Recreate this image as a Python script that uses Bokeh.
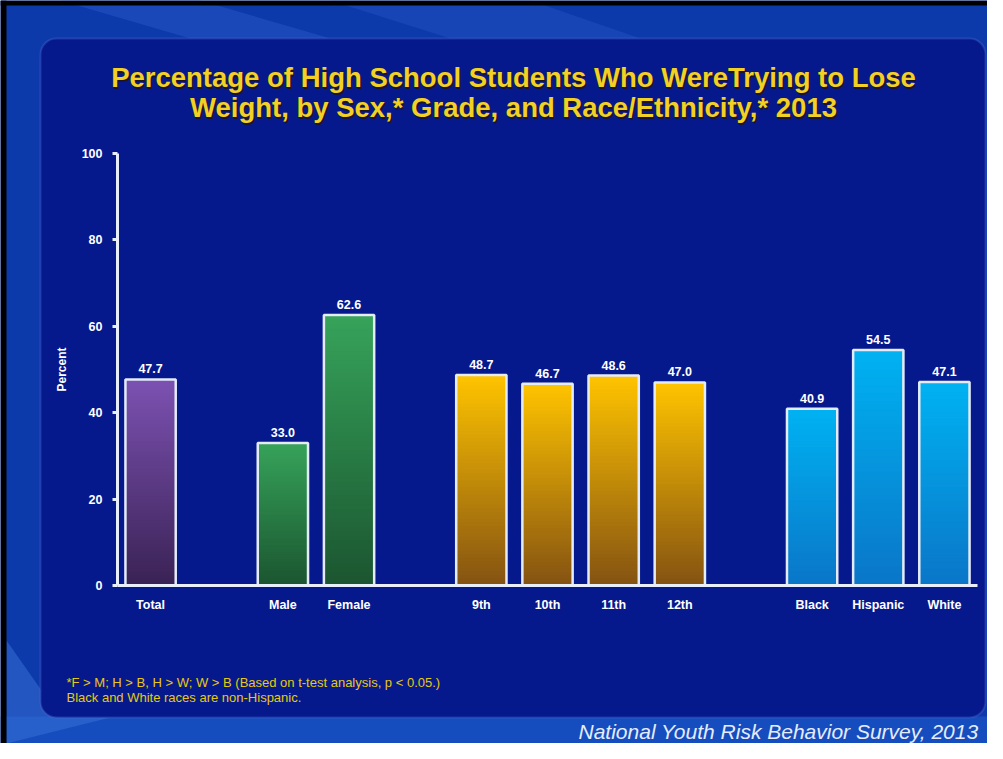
from bokeh.plotting import figure
from bokeh.models import (Label, LabelSet, BoxAnnotation, FixedTicker, Range1d,
                          ColumnDataSource, LinearAxis, PolyAnnotation)
from bokeh.core.properties import value
from bokeh.embed import file_html
from bokeh.resources import INLINE

# ---------------- data ----------------
categories = ["Total", "Male", "Female", "9th", "10th", "11th", "12th",
              "Black", "Hispanic", "White"]
values = [47.7, 33.0, 62.6, 48.7, 46.7, 48.6, 47.0, 40.9, 54.5, 47.1]
group_sizes = [1, 2, 4, 3]
group_top_colors = ["#7c52b2", "#36a35a", "#ffc400", "#00b2f2"]
group_bottom_colors = ["#3a2254", "#1b5530", "#845212", "#0a76c8"]
y_ticks = [0, 20, 40, 60, 80, 100]

title_lines = ["Percentage of High School Students Who WereTrying to Lose",
               "Weight, by Sex,* Grade, and Race/Ethnicity,* 2013"]
footnotes = ["*F > M; H > B, H > W; W > B (Based on t-test analysis, p < 0.05.)",
             "Black and White races are non-Hispanic."]
source_text = "National Youth Risk Behavior Survey, 2013"

# positions with one-slot gaps between groups
positions, bar_group = [], []
pos = 0
for gi, size in enumerate(group_sizes):
    for _ in range(size):
        positions.append(pos)
        bar_group.append(gi)
        pos += 1
    pos += 1


def hex2rgb(h):
    h = h.lstrip("#")
    return tuple(int(h[i:i + 2], 16) for i in (0, 2, 4))


def mix(c1, c2, t):
    a, b = hex2rgb(c1), hex2rgb(c2)
    return "#%02x%02x%02x" % tuple(int(round(a[i] + (b[i] - a[i]) * t)) for i in range(3))


FONT = "Liberation Sans"
W, H = 987, 743
# pixel placement of the plotting area on the canvas
AX_LEFT, AX_RIGHT, AX_TOP, AX_BOTTOM = 117, 977, 153, 585
x_lo, x_hi = positions[0] - 0.5, positions[-1] + 0.5
y_lo, y_hi = 0, 100
xs_per_px = (x_hi - x_lo) / (AX_RIGHT - AX_LEFT)
ys_per_px = (y_hi - y_lo) / (AX_BOTTOM - AX_TOP)
x_range = Range1d(x_lo - AX_LEFT * xs_per_px, x_hi + (W - AX_RIGHT) * xs_per_px)
y_range = Range1d(y_lo - (H - AX_BOTTOM) * ys_per_px, y_hi + AX_TOP * ys_per_px)

p = figure(width=W, height=H, x_range=x_range, y_range=y_range,
           output_backend="svg", toolbar_location=None,
           x_axis_location=None, y_axis_location=None, min_border=0)
p.background_fill_color = "#0d3aab"
p.border_fill_color = "#0d3aab"
p.outline_line_color = None
p.grid.visible = False


def sbox(l, r, t, b, **kw):
    # box in canvas pixels (t, b measured from the top)
    return BoxAnnotation(left=l, right=r, top=H - t, bottom=H - b,
                         left_units="screen", right_units="screen",
                         top_units="screen", bottom_units="screen", **kw)


# lighter streaks in the outer background
p.add_layout(PolyAnnotation(xs=[60, 200, 330, 190], ys=[H, H, H - 38, H - 38],
                            xs_units="screen", ys_units="screen",
                            fill_color="#2a5cc8", fill_alpha=0.45, line_color=None,
                            level="underlay"))
p.add_layout(PolyAnnotation(xs=[330, 530, 640, 450], ys=[H, H, H - 38, H - 38],
                            xs_units="screen", ys_units="screen",
                            fill_color="#2a5cc8", fill_alpha=0.35, line_color=None,
                            level="underlay"))
p.add_layout(sbox(0, W, 716, H, fill_color="#1a56c6", fill_alpha=0.7, line_color=None,
                  level="underlay"))
p.add_layout(PolyAnnotation(xs=[6, 60, 110, 6], ys=[H - 640, H - 717, H - 717, H - 743],
                            xs_units="screen", ys_units="screen",
                            fill_color="#3a72d8", fill_alpha=0.5, line_color=None,
                            level="underlay"))
# black frame edges
p.add_layout(sbox(0, W, 0, 5, fill_color="black", fill_alpha=1, line_color=None,
                  level="underlay"))
p.add_layout(sbox(0, 6, 0, H, fill_color="black", fill_alpha=1, line_color=None,
                  level="underlay"))

# panel behind the chart
p.add_layout(sbox(40, 985, 38, 717, fill_color="#06198c", fill_alpha=1.0,
                  line_color="#5a78d6", line_width=2, border_radius=16,
                  level="underlay"))

# gradient bars: nested rectangles drawn tallest first
N = 60
xs, tops, cols = [], [], []
for x, v, g in zip(positions, values, bar_group):
    for k in range(N - 1, -1, -1):
        xs.append(x)
        tops.append(v * (k + 1) / N)
        cols.append(mix(group_bottom_colors[g], group_top_colors[g], (k + 0.5) / N))
p.vbar(x=xs, bottom=0, top=tops, width=0.76, fill_color=cols, line_color=None)
# outlines
p.vbar(x=positions, top=values, width=0.76, fill_alpha=0, line_color="#e4ecfa",
       line_width=2.5)

# value labels
src = ColumnDataSource(dict(x=positions, y=values, t=["%.1f" % v for v in values]))
p.add_layout(LabelSet(x="x", y="y", text="t", source=src, text_align="center",
                      text_baseline="bottom", y_offset=6, text_color="white",
                      text_font=value(FONT), text_font_style="bold",
                      text_font_size="12.5px"))

# axes placed at fixed locations
xaxis = LinearAxis(fixed_location=0, bounds=(x_lo, x_hi))
xaxis.ticker = FixedTicker(ticks=positions)
xaxis.major_label_overrides = {x: c for x, c in zip(positions, categories)}
xaxis.major_tick_in = 0
xaxis.major_tick_out = 0
xaxis.minor_tick_line_color = None
xaxis.axis_line_color = "#e8eefa"
xaxis.axis_line_width = 3
xaxis.major_label_standoff = 12
xaxis.major_label_text_color = "white"
xaxis.major_label_text_font = FONT
xaxis.major_label_text_font_style = "bold"
xaxis.major_label_text_font_size = "12.5px"
p.add_layout(xaxis, "below")

yaxis = LinearAxis(fixed_location=x_lo, bounds=(y_lo, y_hi))
yaxis.ticker = FixedTicker(ticks=y_ticks)
yaxis.major_tick_in = 0
yaxis.major_tick_out = 5
yaxis.major_tick_line_color = "#e8eefa"
yaxis.major_tick_line_width = 3
yaxis.minor_tick_line_color = None
yaxis.axis_line_color = "#e8eefa"
yaxis.axis_line_width = 3
yaxis.major_label_standoff = 10
yaxis.major_label_text_color = "white"
yaxis.major_label_text_font = FONT
yaxis.major_label_text_font_style = "bold"
yaxis.major_label_text_font_size = "12.5px"
yaxis.axis_label = "Percent"
yaxis.axis_label_text_color = "white"
yaxis.axis_label_text_font = FONT
yaxis.axis_label_text_font_style = "bold"
yaxis.axis_label_text_font_size = "12px"
yaxis.axis_label_standoff = 10
p.add_layout(yaxis, "left")

# titles (with a soft dark shadow)
for i, line in enumerate(title_lines):
    base = H - (77 + 30 * i)
    p.add_layout(Label(x=514.5, y=base - 1.5, x_units="screen", y_units="screen",
                       text=line, text_align="center", text_baseline="alphabetic",
                       text_color="#1a1530", text_font=FONT, text_font_style="bold",
                       text_font_size="27.5px"))
    p.add_layout(Label(x=513, y=base, x_units="screen", y_units="screen",
                       text=line, text_align="center", text_baseline="alphabetic",
                       text_color="#f2d024", text_font=FONT, text_font_style="bold",
                       text_font_size="27.5px"))

for i, line in enumerate(footnotes):
    p.add_layout(Label(x=66, y=H - (682 + 15 * i), x_units="screen", y_units="screen",
                       text=line, text_align="left", text_baseline="middle",
                       text_color="#e8c810", text_font=FONT, text_font_size="13px"))

p.add_layout(Label(x=978, y=H - 731, x_units="screen", y_units="screen",
                   text=source_text, text_align="right", text_baseline="middle",
                   text_color="#e6ecfa", text_font=FONT, text_font_style="italic",
                   text_font_size="21px"))

open("out.html", "w").write(file_html(p, INLINE))
